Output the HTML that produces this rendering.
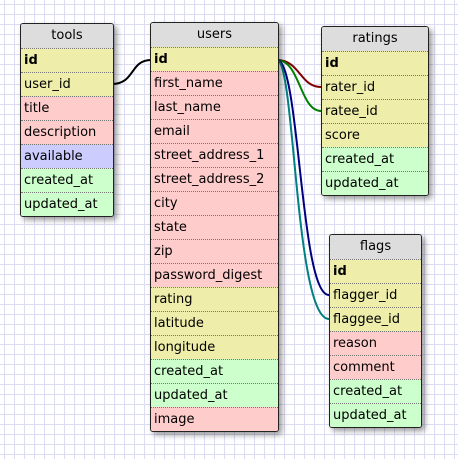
<!DOCTYPE html>
<html><head><style>
body{margin:0;width:458px;height:459px;overflow:hidden;background-color:#fff;
background-image:linear-gradient(to right,#dcdcf2 1px,transparent 1px),linear-gradient(to bottom,#dcdcf2 1px,transparent 1px);
background-size:10px 10px;background-position:4px 4px;font-family:"DejaVu Sans","Liberation Sans",sans-serif;font-size:13px;color:#000;position:relative}
.t{position:absolute;border:1px solid #222;border-radius:3px;box-shadow:3px 3px 6px rgba(0,0,0,.4);overflow:hidden;background:#fff}
.t div{height:23px;line-height:23px;padding-left:3px;border-top:1px dotted #777;white-space:nowrap}
.t .h{background:#ddd;text-align:center;padding:0;border-top:none;height:24px;line-height:24px}
.y{background:#eeeeaa}.p{background:#ffcccc}.b{background:#ccccff}.g{background:#ccffcc}
.k{font-weight:bold}
svg{position:absolute;left:0;top:0}
</style></head><body>
<svg width="458" height="459">
<path d="M112,84 C135,84 130,60 151,60" stroke="#000" stroke-width="2" fill="none"/>
<path d="M277,60 C300,60 300,87 321,87" stroke="#800000" stroke-width="2" fill="none"/>
<path d="M277,60 C300,60 300,111 321,111" stroke="#008000" stroke-width="2" fill="none"/>
<path d="M277,60 C300,60 300,295 329,295" stroke="#000080" stroke-width="2" fill="none"/>
<path d="M277,60 C295,60 295,319 329,319" stroke="#008080" stroke-width="2" fill="none"/>
</svg>
<div class="t" style="left:20px;top:23px;width:92px">
<div class="h">tools</div><div class="y k">id</div><div class="y">user_id</div><div class="p">title</div><div class="p">description</div><div class="b">available</div><div class="g">created_at</div><div class="g">updated_at</div></div>
<div class="t" style="left:150px;top:22px;width:127px">
<div class="h">users</div><div class="y k">id</div><div class="p">first_name</div><div class="p">last_name</div><div class="p">email</div><div class="p">street_address_1</div><div class="p">street_address_2</div><div class="p">city</div><div class="p">state</div><div class="p">zip</div><div class="p">password_digest</div><div class="y">rating</div><div class="y">latitude</div><div class="y">longitude</div><div class="g">created_at</div><div class="g">updated_at</div><div class="p">image</div></div>
<div class="t" style="left:321px;top:26px;width:106px">
<div class="h">ratings</div><div class="y k">id</div><div class="y">rater_id</div><div class="y">ratee_id</div><div class="y">score</div><div class="g">created_at</div><div class="g">updated_at</div></div>
<div class="t" style="left:329px;top:234px;width:91px">
<div class="h">flags</div><div class="y k">id</div><div class="y">flagger_id</div><div class="y">flaggee_id</div><div class="p">reason</div><div class="p">comment</div><div class="g">created_at</div><div class="g">updated_at</div></div>
</body></html>
